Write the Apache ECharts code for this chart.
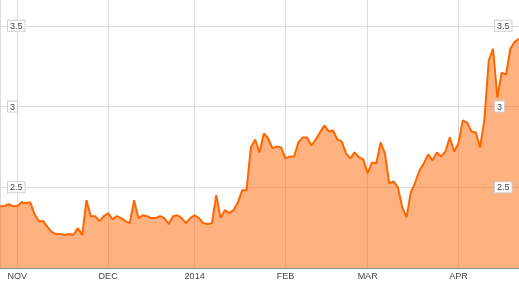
<!DOCTYPE html>
<html>
<head>
<meta charset="utf-8">
<script src="https://cdn.jsdelivr.net/npm/echarts@6/dist/echarts.min.js"></script>
<style>html,body{margin:0;padding:0;background:#fff;}#c{width:519px;height:281px;}</style>
</head>
<body>
<div id="c"></div>
<script>
// Series values (one per trading day, late Oct 2013 to mid Apr 2014)
var values = [
  2.383, 2.383, 2.395, 2.383, 2.383, 2.407, 2.401, 2.407, 2.333, 2.290,
  2.290, 2.253, 2.222, 2.210, 2.210, 2.204, 2.210, 2.204, 2.247, 2.204,
  2.420, 2.321, 2.321, 2.290, 2.321, 2.340, 2.302, 2.321, 2.309, 2.290,
  2.278, 2.420, 2.309, 2.327, 2.321, 2.309, 2.309, 2.321, 2.309, 2.272,
  2.321, 2.327, 2.309, 2.278, 2.309, 2.327, 2.309, 2.278, 2.272, 2.278,
  2.451, 2.309, 2.358, 2.340, 2.358, 2.407, 2.481, 2.481, 2.747, 2.796,
  2.716, 2.833, 2.802, 2.741, 2.753, 2.747, 2.679, 2.691, 2.691, 2.778,
  2.809, 2.809, 2.759, 2.796, 2.840, 2.883, 2.846, 2.852, 2.796, 2.784,
  2.710, 2.679, 2.716, 2.685, 2.673, 2.586, 2.654, 2.648, 2.778, 2.710,
  2.525, 2.537, 2.500, 2.377, 2.315, 2.469, 2.531, 2.605, 2.648, 2.704,
  2.667, 2.716, 2.691, 2.722, 2.809, 2.722, 2.772, 2.914, 2.901, 2.846,
  2.840, 2.747, 2.920, 3.284, 3.358, 3.056, 3.210, 3.198, 3.358, 3.401,
  3.420
];
// Month tick labels and the data index where each falls
var tickLabels = ['NOV', 'DEC', '2014', 'FEB', 'MAR', 'APR'];
var tickIndex = [4, 25, 45, 66, 85, 106];
// Y tick labels shown
var yTickLabels = [2.5, 3, 3.5];

var categories = values.map(function (v, i) { return String(i); });

function isTick(i) { return tickIndex.indexOf(i) >= 0; }

var labelBox = {
  backgroundColor: '#fff',
  borderColor: '#cfcfcf',
  borderWidth: 1,
  padding: [1, 2, 0, 2],
  color: '#444',
  fontFamily: 'Arial, Liberation Sans, sans-serif',
  fontSize: 9,
  lineHeight: 10
};
function yFmt(v) {
  for (var k = 0; k < yTickLabels.length; k++) {
    if (Math.abs(yTickLabels[k] - v) < 1e-6) return '{b|' + String(yTickLabels[k]) + '}';
  }
  return '';
}

var chart = echarts.init(document.getElementById('c'), null, { renderer: 'canvas' });
chart.setOption({
  animation: false,
  grid: { left: 0, right: 0, top: 0, bottom: 13, containLabel: false },
  xAxis: {
    type: 'category',
    boundaryGap: false,
    data: categories,
    axisLine: { show: true, lineStyle: { color: '#8a8a8a', width: 1 } },
    axisTick: { show: false },
    axisLabel: {
      interval: function (i) { return isTick(i); },
      formatter: function (v, i) { var k = tickIndex.indexOf(i); return k >= 0 ? tickLabels[k] : ''; },
      color: '#444',
      fontFamily: 'Arial, Liberation Sans, sans-serif',
      fontSize: 9,
      margin: 4
    },
    splitLine: {
      show: true,
      interval: function (i) { return i === 0 || isTick(i); },
      lineStyle: { color: '#dcdcdc', width: 1 }
    }
  },
  yAxis: [
    {
      type: 'value',
      position: 'left',
      min: 2,
      max: 3.66,
      interval: 0.5,
      axisLine: { show: false },
      axisTick: { show: false },
      splitLine: { show: true, showMinLine: false, showMaxLine: false, lineStyle: { color: '#dcdcdc', width: 1 } },
      axisLabel: { inside: true, margin: 8, formatter: yFmt, rich: { b: labelBox } }
    },
    {
      type: 'value',
      position: 'right',
      z: 10,
      min: 2,
      max: 3.66,
      interval: 0.5,
      axisLine: { show: false },
      axisTick: { show: false },
      splitLine: { show: false },
      axisLabel: { inside: true, margin: 24, align: 'left', formatter: yFmt, rich: { b: labelBox } }
    }
  ],
  series: [{
    type: 'line',
    data: values,
    yAxisIndex: 0,
    symbol: 'none',
    smooth: false,
    lineStyle: { color: '#ff6600', width: 2 },
    itemStyle: { color: '#ff6600' },
    areaStyle: { color: '#ff6600', opacity: 0.5, origin: 'start' }
  }]
});
</script>
</body>
</html>
